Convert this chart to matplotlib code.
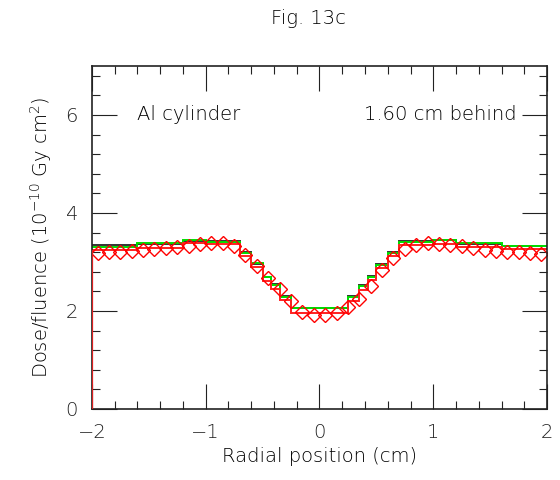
import numpy as np
import matplotlib
matplotlib.use('Agg')
import matplotlib.pyplot as plt
from matplotlib.ticker import MultipleLocator

plt.rcParams['font.family'] = ['DejaVu Sans']
plt.rcParams['font.weight'] = 'light'
plt.rcParams['axes.labelweight'] = 'light'
plt.rcParams['mathtext.default'] = 'regular'

# bin edges of the step histograms (cm)
edges = [-2.0, -1.6, -1.2, -1.0, -0.7, -0.6, -0.5, -0.43, -0.35, -0.25,
         0.25, 0.35, 0.43, 0.5, 0.6, 0.7, 1.0, 1.2, 1.6, 2.0]

# dose/fluence per bin (1e-10 Gy cm2)
black = [3.34, 3.37, 3.43, 3.43, 3.20, 2.96, 2.69, 2.56, 2.30, 2.07,
         2.31, 2.52, 2.72, 2.95, 3.20, 3.43, 3.44, 3.37, 3.32]
green = [3.31, 3.38, 3.45, 3.41, 3.19, 2.97, 2.70, 2.53, 2.29, 2.06,
         2.29, 2.50, 2.70, 2.94, 3.18, 3.41, 3.45, 3.38, 3.33]
red = [3.25, 3.29, 3.38, 3.36, 3.13, 2.90, 2.62, 2.45, 2.22, 1.96,
       2.21, 2.42, 2.64, 2.88, 3.12, 3.34, 3.36, 3.30, 3.26]

# measured points (diamonds)
x_pts = [-1.95, -1.85, -1.75, -1.65, -1.55, -1.45, -1.35, -1.25, -1.15, -1.05,
         -0.95, -0.85, -0.75, -0.65, -0.55, -0.45, -0.35, -0.25, -0.15, -0.05,
         0.05, 0.15, 0.25, 0.35, 0.45, 0.55, 0.65, 0.75, 0.85, 0.95,
         1.05, 1.15, 1.25, 1.35, 1.45, 1.55, 1.65, 1.75, 1.85, 1.95]
y_pts = [3.19, 3.20, 3.20, 3.22, 3.25, 3.26, 3.28, 3.30, 3.33, 3.37,
         3.39, 3.38, 3.33, 3.15, 2.92, 2.67, 2.45, 2.20, 1.97, 1.92,
         1.92, 1.95, 2.08, 2.25, 2.50, 2.83, 3.08, 3.27, 3.35, 3.38,
         3.36, 3.35, 3.32, 3.29, 3.25, 3.22, 3.21, 3.20, 3.18, 3.17]

fig = plt.figure(figsize=(5.6, 4.8), dpi=100)
ax = fig.add_axes([0.164, 0.148, 0.813, 0.7145])

ax.stairs(black, edges, baseline=None, color='#333333', lw=1.4)
ax.stairs(green, edges, baseline=None, color='#00dd00', lw=1.4)
ax.stairs(red, edges, baseline=None, color='#ff2020', lw=1.4)
ax.vlines(edges[0], 0, red[0], color='#dd2020', lw=1.6, zorder=3)
ax.plot(x_pts, y_pts, ls='none', marker='D', ms=6.9, mfc='none',
        mec='red', mew=1.0)

ax.set_xlim(-2, 2)
ax.set_ylim(0, 7)
ax.xaxis.set_major_locator(MultipleLocator(1))
ax.xaxis.set_minor_locator(MultipleLocator(0.2))
ax.yaxis.set_major_locator(MultipleLocator(2))
ax.yaxis.set_minor_locator(MultipleLocator(0.4))
ax.tick_params(which='both', direction='in', top=True, right=True,
               width=0.8, colors='#222222', labelsize=14, pad=10)
ax.tick_params(which='major', length=18)
ax.tick_params(which='minor', length=6)
for s in ax.spines.values():
    s.set_linewidth(1.2)
    s.set_color('#222222')

ax.set_xlabel('Radial position (cm)', fontsize=14, labelpad=4)
ax.set_ylabel('Dose/fluence (10$^{-10}$ Gy cm$^2$)', fontsize=14, labelpad=8)

ax.text(-1.6, 6.0, 'Al cylinder', fontsize=14, va='center', ha='left')
ax.text(1.73, 6.0, '1.60 cm behind', fontsize=14, va='center', ha='right')

fig.text(0.55, 0.962, 'Fig. 13c', fontsize=14, ha='center', va='center')

plt.savefig('out.png', dpi=100)
